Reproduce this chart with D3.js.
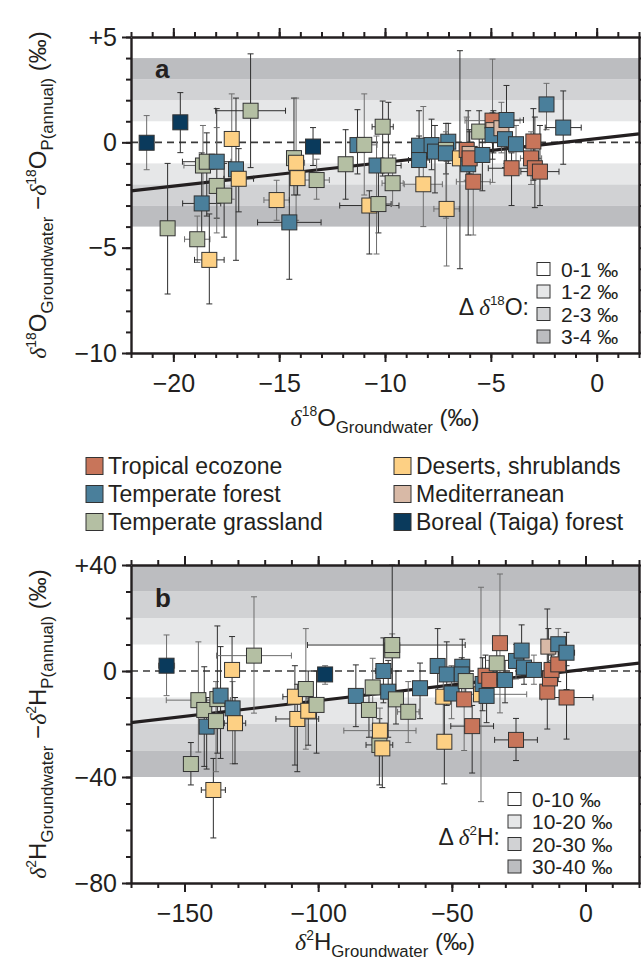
<!DOCTYPE html>
<html>
<head>
<meta charset="utf-8">
<script src="https://cdn.jsdelivr.net/npm/d3@7"></script>
<style>
body { margin: 0; background: #fff; }
svg { display: block; font-family: "Liberation Sans", Arial, sans-serif; }
</style>
</head>
<body>
<svg width="641" height="967"></svg>
<script>
/*
data
each point: [zone, x, y, xerr, yLow, yHigh]
xerr is a half width (0 = no bar) or [lo, hi]
*/
var zoneCodes = ['T', 'F', 'G', 'D', 'M', 'B'];
var zoneNames = ['Tropical ecozone', 'Temperate forest', 'Temperate grassland',
	'Deserts, shrublands', 'Mediterranean', 'Boreal (Taiga) forest'];
var zoneFill = {T: '#c8755a', F: '#4a7f9b', G: '#b4bfa3', D: '#fdd084', M: '#d8b9a6', B: '#0a3a5c'};

var o18Points = [
	['B', -21.26, -0.02, 0, -1.3, 1.27],
	['B', -19.67, 0.95, 0, -0.49, 2.36],
	['G', -20.27, -4.08, 0, -7.2, -1.0],
	['G', -18.87, -4.6, 0.6, -5.7, -3.5],
	['D', -18.3, -5.58, 0.7, -7.67, -3.4],
	['F', -18.66, -2.9, 0.9, -4.8, -0.5],
	['G', -18.6, -1.1, 0.9, -3.0, 0.8],
	['G', -18.42, -0.92, 1.15, -3.5, 0.45],
	['F', -17.95, -0.92, 0, -3.6, 1.6],
	['G', -17.95, -2.07, 0, -4.3, 0.7],
	['G', -17.6, -2.53, 0, -4.5, -1.0],
	['F', -17.04, -1.28, 0, -5.6, 2.1],
	['D', -17.24, 0.16, 0, -2.7, 2.3],
	['D', -16.91, -1.73, 0.7, -3.3, -0.3],
	['G', -16.35, 1.5, 1.65, -1.2, 4.2],
	['D', -15.12, -2.74, 0.6, -3.7, -1.8],
	['F', -14.52, -3.8, 1.5, -6.5, -0.8],
	['G', -14.3, -0.75, 0.3, -2.5, 2.1],
	['D', -14.2, -0.97, 0.4, -3.7, 2.1],
	['D', -14.13, -1.7, 0, -2.5, -0.5],
	['B', -13.4, -0.2, 0, -1.1, 0.7],
	['G', -13.23, -1.79, 0.6, -2.7, -0.8],
	['G', -11.86, -1.04, 0, -2.7, 0.6],
	['F', -11.3, -0.13, 0, -1.5, 1.55],
	['G', -10.98, -0.12, 0.6, -2.5, 2.3],
	['D', -10.74, -3.0, 1.4, -5.3, -2.3],
	['G', -10.31, -2.93, 0.6, -4.3, -1.3],
	['F', -10.4, -1.1, 0, -5.3, 0.3],
	['G', -10.11, 0.74, 0.5, -1.6, 1.96],
	['G', -9.84, -1.1, 0.6, -1.9, 1.9],
	['G', -9.64, -1.94, 0.5, -3.0, -0.6],
	['F', -8.39, -0.16, 0, -1.0, 1.5],
	['F', -8.39, -0.84, 0.5, -2.0, 0.3],
	['D', -8.19, -1.99, 0.9, -4.0, 1.7],
	['F', -7.8, -0.13, 0, -1.3, 1.1],
	['F', -7.64, -0.44, 0, -2.4, 0.8],
	['D', -7.09, -3.16, 0.6, -5.87, -0.9],
	['F', -7.01, 0.03, 0, -1.0, 0.9],
	['G', -7.12, -0.36, 0, -1.5, 0.9],
	['F', -7.12, -0.52, 0, -3.6, 0.5],
	['D', -6.46, -0.76, 0, -6.0, 4.35],
	['F', -6.07, -1.04, 0, -4.4, 1.5],
	['T', -6.14, -0.36, 0.3, -1.8, 1.2],
	['M', -6.0, -0.55, 0, -1.5, 0.5],
	['T', -6.0, -0.76, 0, -2.0, 0.6],
	['T', -5.83, -1.87, 0.8, -4.4, -0.8],
	['F', -5.4, -0.6, 0, -2.3, 0.5],
	['G', -5.55, 0.51, 0, -0.5, 1.5],
	['T', -4.92, 1.03, 1.3, -1.9, 3.95],
	['M', -4.88, 0.58, 0, -0.5, 1.5],
	['F', -4.92, 0.35, 0, -0.8, 1.4],
	['M', -4.5, 0.67, 0, -0.5, 1.9],
	['F', -4.26, 1.06, 0.8, -1.0, 2.7],
	['F', -4.33, 0.15, 0, -1.2, 1.0],
	['F', -3.81, -0.09, 0, -1.0, 0.8],
	['T', -4.02, -1.23, 1.1, -3.0, -0.5],
	['T', -2.99, 0.04, 0, -1.8, 1.6],
	['T', -3.1, -0.76, 0.5, -2.0, 0.5],
	['T', -2.92, -1.23, 0, -3.1, 1.2],
	['T', -2.68, -1.39, 0.9, -3.0, 0.8],
	['F', -2.37, 1.8, 0.3, 0.6, 2.8],
	['F', -1.58, 0.7, 0.85, -1.04, 2.44]
];

var h2Points = [
	['B', -156.7, 2.0, 3, -9.3, 13.6],
	['G', -147.6, -35.1, 0, -43, -27],
	['D', -139.2, -44.9, 4.5, -63, -33],
	['G', -144.8, -11, 12, -30.6, 11],
	['G', -142.6, -14.7, 0, -36, 1.6],
	['F', -141.7, -21, 0, -37, -10],
	['G', -138.2, -18.9, 0, -38, -4],
	['G', -137.7, -10.6, 0, -31, 17],
	['F', -136.5, -9.3, 0, -33, 9.2],
	['F', -132, -14.1, 0, -35, -4],
	['D', -131.1, -19.7, 4, -35, -10],
	['D', -132.2, 0.4, 0, -12, 13],
	['G', -124, 5.8, 14, -15.9, 28],
	['D', -108.7, -9.7, 4.5, -35.5, 2],
	['D', -107.8, -18.1, 8, -38, -5],
	['G', -104.6, -6.8, 0, -29.5, 16],
	['D', -103.7, -15, 0, -28, 0],
	['G', -100.6, -12.8, 0, -31, 0],
	['B', -97.4, -1.3, 2.5, -5, 2],
	['F', -85.9, -9.4, 0, -21, 2.3],
	['G', -81, -14.7, 0, -25, -5],
	['G', -79.6, -6.2, 0, -25, 4.8],
	['G', -77.1, -27.9, 5, -43, -18],
	['D', -76, -29.2, 0, -44, -20],
	['D', -76.9, -22.5, 13.5, -31, -14],
	['F', -75.6, 0, 3, -12, 12.5],
	['F', -73.8, -7.8, 0, -25, 4],
	['G', -72.3, 7.8, 0, -8, 14],
	['G', -72.3, 9.8, [-104, -45], -8, 40],
	['G', -70.9, -10.7, 0, -20, 0],
	['G', -66.3, -15.4, 4, -27, -4],
	['F', -61.9, -6.5, 0, -18, 3],
	['F', -55.3, 1.9, 0, -12, 16],
	['D', -53.2, -9.7, 0, -27, -2],
	['D', -52.8, -26.7, 0, -42.6, -10],
	['F', -51.9, -1.3, 0, -13, 11],
	['F', -50.1, -8.5, 0, -18, 2],
	['F', -46.1, 1.6, 0, -5, 12],
	['F', -46.3, -1.3, 0, -10, 5],
	['T', -45.4, -10.7, 0, -30, -1],
	['G', -44.8, -3.8, 0, -12, 2],
	['T', -42.4, -20.8, 8, -38.5, -13],
	['D', -39.1, -8.8, [-48.8, -22], -49.3, 31.6],
	['F', -38.5, -4.9, 0, -15, 5],
	['T', -37.4, -1.8, 0, -10, 6],
	['T', -36, -3.4, 0, -10, 4],
	['F', -37, -9.4, 0, -19.5, 0],
	['G', -33.2, 2.9, 0, -5, 10],
	['T', -32, 10.5, 0, -15.8, 36.6],
	['F', -30.1, -3.4, 0, -12, 4],
	['T', -26, -26, [-34, -18], -33.8, -17.9],
	['F', -26, 3.8, 0, -3, 10],
	['F', -23.9, 7.7, 0, -2, 17.4],
	['F', -23, 1.3, 0, -5, 8],
	['F', -19.3, 0.4, 0, -5, 6],
	['M', -13.9, 9.2, 0, 2, 16],
	['T', -14.3, -7.8, 0, -21.9, 23.4],
	['T', -13.3, -2.8, 0, -10, 4],
	['T', -12.7, 0.4, 0, -6, 6],
	['T', -10.2, 2.5, 0, -4, 9],
	['F', -10.2, 10.1, 0, 3, 16],
	['F', -7.1, 6.9, 3, -7, 14.6],
	['T', -7.1, -10, [-16.4, 2.8], -25.7, 2]
];

// regression lines (end points)
var o18Fit = [[-22, -2.3], [2, 0.4]];
var h2Fit = [[-170, -19.5], [20, 3]];

var o18XTicks = [-20, -15, -10, -5, 0];
var o18YTicks = [5, 0, -5, -10];
var h2XTicks = [-150, -100, -50, 0];
var h2YTicks = [40, 0, -40, -80];

var o18BandEdges = [1, 2, 3, 4];
var h2BandEdges = [10, 20, 30, 40];
var o18BandLabels = ['0-1 \u2030', '1-2 \u2030', '2-3 \u2030', '3-4 \u2030'];
var h2BandLabels = ['0-10 \u2030', '10-20 \u2030', '20-30 \u2030', '30-40 \u2030'];
var bandFill = ['#ffffff', '#e6e7e8', '#d1d2d4', '#bcbdc0'];

var ink = '#231f20';
var svg = d3.select('svg');

function fmt(v) {
	if (v > 0) return '+' + v;
	if (v < 0) return '\u2212' + Math.abs(v);
	return '0';
}

/*
write text with super/subscripts as tspans
*/
function rich(sel, parts, base) {
	var off = 0;
	parts.forEach(function(p) {
		var shift = p.k == 'sup' ? -0.42 * base : (p.k == 'sub' ? 0.28 * base : 0);
		var ts = sel.append('tspan').text(p.t).attr('dy', shift - off);
		off = shift;
		if (p.k == 'sup') ts.attr('font-size', base * 0.58);
		if (p.k == 'sub') ts.attr('font-size', base * 0.7);
		if (p.serif) ts.attr('font-family', '"Liberation Serif", serif').attr('font-style', 'italic');
	});
}

function drawPanel(cfg) {
	var x = d3.scaleLinear().domain(cfg.xDomain).range([131, 639]);
	var y = d3.scaleLinear().domain(cfg.yDomain).range([cfg.bottom, cfg.top]);
	var g = svg.append('g');

	// grey bands, the 0-1 band stays white
	cfg.bands.forEach(function(e, i) {
		if (i == 0) return;
		var lo = cfg.bands[i - 1], hi = e;
		[[lo, hi], [-hi, -lo]].forEach(function(r) {
			g.append('rect')
				.attr('x', x(cfg.xDomain[0])).attr('width', x(cfg.xDomain[1]) - x(cfg.xDomain[0]))
				.attr('y', y(r[1])).attr('height', y(r[0]) - y(r[1]))
				.attr('fill', bandFill[i - 1]);
		});
	});

	// zero line
	g.append('line')
		.attr('x1', x(cfg.xDomain[0])).attr('x2', x(cfg.xDomain[1]))
		.attr('y1', y(0)).attr('y2', y(0))
		.attr('stroke', '#3a3a3a').attr('stroke-width', 1.6).attr('stroke-dasharray', '7,5');

	// regression
	g.append('line')
		.attr('x1', x(cfg.fit[0][0])).attr('y1', y(cfg.fit[0][1]))
		.attr('x2', x(cfg.fit[1][0])).attr('y2', y(cfg.fit[1][1]))
		.attr('stroke', ink).attr('stroke-width', 3.2);

	// error bars
	var eb = g.append('g').attr('fill', 'none').attr('stroke-width', 1);
	cfg.points.forEach(function(d, i) {
		var col = i % 3 == 0 ? '#6d6d6d' : '#2e2e2e';
		var cx = x(d[1]), cy = y(d[2]);
		eb.append('line').attr('x1', cx).attr('x2', cx).attr('y1', y(d[4])).attr('y2', y(d[5])).attr('stroke', col);
		[d[4], d[5]].forEach(function(v) {
			eb.append('line').attr('x1', cx - 3).attr('x2', cx + 3).attr('y1', y(v)).attr('y2', y(v)).attr('stroke', col);
		});
		var xe = d[3];
		if (xe) {
			var lo = Array.isArray(xe) ? xe[0] : d[1] - xe;
			var hi = Array.isArray(xe) ? xe[1] : d[1] + xe;
			eb.append('line').attr('x1', x(lo)).attr('x2', x(hi)).attr('y1', cy).attr('y2', cy).attr('stroke', col);
			[lo, hi].forEach(function(v) {
				eb.append('line').attr('x1', x(v)).attr('x2', x(v)).attr('y1', cy - 3).attr('y2', cy + 3).attr('stroke', col);
			});
		}
	});

	// squares
	g.append('g').selectAll('rect').data(cfg.points).enter().append('rect')
		.attr('x', function(d) { return x(d[1]) - 7.5; })
		.attr('y', function(d) { return y(d[2]) - 7.5; })
		.attr('width', 15).attr('height', 15)
		.attr('fill', function(d) { return zoneFill[d[0]]; })
		.attr('stroke', '#333').attr('stroke-width', 1);

	/*
	axes on all four sides, ticks outward
	*/
	var xMinor = d3.range(cfg.xDomain[0], cfg.xDomain[1] + 0.001, cfg.xMinor);
	var yMinor = d3.range(cfg.yDomain[0], cfg.yDomain[1] + 0.001, cfg.yMinor);

	function style(a) {
		a.selectAll('path, line').attr('stroke', ink).attr('stroke-width', 2);
		a.select('.domain').attr('stroke-width', 2.4);
		a.selectAll('text').attr('fill', ink).attr('font-size', 25);
	}

	var bottom = g.append('g').attr('transform', 'translate(0,' + cfg.bottom + ')');
	bottom.call(d3.axisBottom(x).tickValues(xMinor).tickSize(5).tickFormat('').tickSizeOuter(0)).call(style);
	bottom.append('g').call(d3.axisBottom(x).tickValues(cfg.xTicks).tickSize(9).tickFormat(fmt).tickPadding(8))
		.call(style).call(function(a) { a.select('.domain').remove(); a.selectAll('text').attr('y', 39).attr('dy', 0); });

	var top = g.append('g').attr('transform', 'translate(0,' + cfg.top + ')');
	top.call(d3.axisTop(x).tickValues(xMinor).tickSize(5).tickFormat('').tickSizeOuter(0)).call(style);
	top.append('g').call(d3.axisTop(x).tickValues(cfg.xTicks).tickSize(9).tickFormat(''))
		.call(style).call(function(a) { a.select('.domain').remove(); });

	var left = g.append('g').attr('transform', 'translate(131,0)');
	left.call(d3.axisLeft(y).tickValues(yMinor).tickSize(5).tickFormat('').tickSizeOuter(0)).call(style);
	left.append('g').call(d3.axisLeft(y).tickValues(cfg.yTicks).tickSize(9).tickFormat(fmt).tickPadding(6))
		.call(style).call(function(a) { a.select('.domain').remove(); a.selectAll('text').attr('x', -14); });

	var right = g.append('g').attr('transform', 'translate(639,0)');
	right.call(d3.axisRight(y).tickValues(yMinor).tickSize(5).tickFormat('').tickSizeOuter(0)).call(style);

	// panel letter
	g.append('text').attr('x', 155).attr('y', cfg.top + cfg.letterDy)
		.attr('font-size', 26).attr('font-weight', 'bold').attr('fill', ink).text(cfg.letter);

	// axis titles
	rich(g.append('text').attr('x', 385).attr('y', cfg.bottom + cfg.titleDy)
		.attr('text-anchor', 'middle').attr('font-size', 24).attr('fill', ink), cfg.xTitle, 24);
	rich(g.append('text')
		.attr('transform', 'translate(46,' + ((cfg.top + cfg.bottom) / 2) + ') rotate(-90)')
		.attr('text-anchor', 'middle').attr('font-size', 24).attr('fill', ink), cfg.yTitle, 24);

	// band legend
	var lg = g.append('g');
	cfg.bandLabels.forEach(function(t, i) {
		var ly = cfg.bottom - 84 + i * 22.5;
		lg.append('rect').attr('x', cfg.legX).attr('y', ly - 6.5).attr('width', 13).attr('height', 13)
			.attr('fill', bandFill[i]).attr('stroke', '#333').attr('stroke-width', 1);
		lg.append('text').attr('x', cfg.legX + 24).attr('y', ly + 7.5)
			.attr('font-size', 21).attr('fill', ink).text(t);
	});
	rich(lg.append('text').attr('x', cfg.legX - 8).attr('y', cfg.bottom - 38)
		.attr('text-anchor', 'end').attr('font-size', 23).attr('fill', ink), cfg.legTitle, 23);
}

var iso = function(n, el) {
	return [{t: '\u03b4', serif: 1}, {t: n, k: 'sup'}, {t: el}];
};

drawPanel({
	points: o18Points, fit: o18Fit,
	xDomain: [-22, 2], yDomain: [-10, 5], top: 37, bottom: 353,
	xTicks: o18XTicks, yTicks: o18YTicks, xMinor: 1, yMinor: 1,
	bands: [0].concat(o18BandEdges), bandLabels: o18BandLabels,
	letter: 'a', letterDy: 41, legX: 537, titleDy: 73,
	legTitle: [{t: '\u0394 '}].concat(iso('18', 'O'), [{t: ':'}]),
	xTitle: iso('18', 'O').concat([{t: 'Groundwater', k: 'sub'}, {t: ' (\u2030)'}]),
	yTitle: iso('18', 'O').concat([{t: 'Groundwater', k: 'sub'}, {t: ' \u2212'}], iso('18', 'O'),
		[{t: 'P(annual)', k: 'sub'}, {t: ' (\u2030)'}])
});

drawPanel({
	points: h2Points, fit: h2Fit,
	xDomain: [-170, 20], yDomain: [-80, 40], top: 565, bottom: 883,
	xTicks: h2XTicks, yTicks: h2YTicks, xMinor: 10, yMinor: 10,
	bands: [0].concat(h2BandEdges), bandLabels: h2BandLabels,
	letter: 'b', letterDy: 42, legX: 508, titleDy: 67,
	legTitle: [{t: '\u0394 '}].concat(iso('2', 'H'), [{t: ':'}]),
	xTitle: iso('2', 'H').concat([{t: 'Groundwater', k: 'sub'}, {t: ' (\u2030)'}]),
	yTitle: iso('2', 'H').concat([{t: 'Groundwater', k: 'sub'}, {t: ' \u2212'}], iso('2', 'H'),
		[{t: 'P(annual)', k: 'sub'}, {t: ' (\u2030)'}])
});

/*
ecozone legend between the panels
*/
var leg = svg.append('g');
zoneCodes.forEach(function(c, i) {
	var col = Math.floor(i / 3), row = i % 3;
	var lx = col == 0 ? 86 : 394, ly = 466 + row * 28;
	leg.append('rect').attr('x', lx).attr('y', ly - 8.5).attr('width', 17).attr('height', 17)
		.attr('fill', zoneFill[c]).attr('stroke', '#333').attr('stroke-width', 1);
	leg.append('text').attr('x', lx + 22).attr('y', ly + 8)
		.attr('font-size', 23).attr('fill', ink).text(zoneNames[i]);
});
</script>
</body>
</html>
